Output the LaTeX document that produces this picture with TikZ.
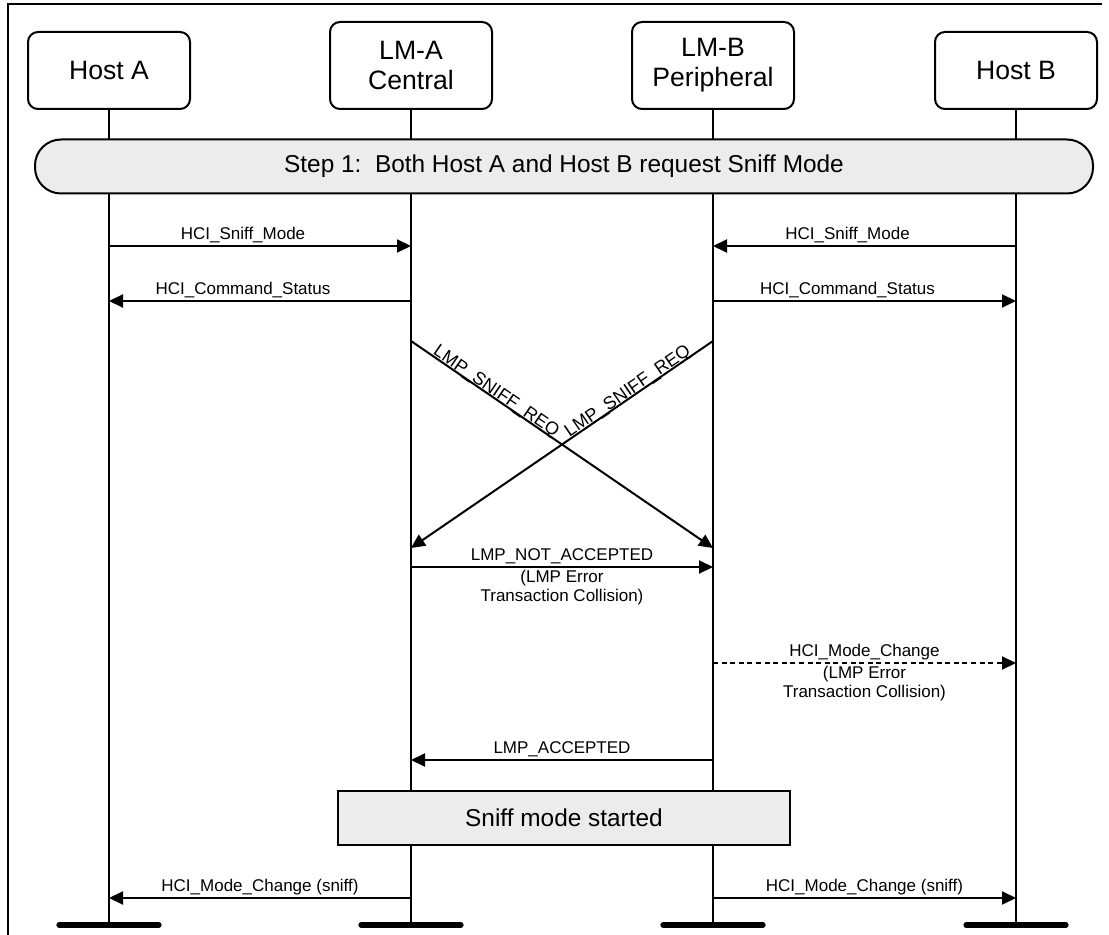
\documentclass[tikz,border=0pt]{standalone}
\usepackage{fontspec}
\setmainfont{Liberation Sans}
\usetikzlibrary{positioning,arrows.meta,calc}
\definecolor{ink}{RGB}{0,0,0}
\definecolor{bandfill}{RGB}{236,236,236}
\tikzset{
  head/.style={draw=ink, rounded corners=5pt, align=center, minimum width=81pt,
    minimum height=38.5pt, inner sep=2pt, font=\fontsize{13.3}{15}\selectfont,
    text=ink, line width=1pt},
  band/.style={draw=ink, fill=bandfill, rounded corners=13pt, minimum width=529pt,
    minimum height=27pt, inner sep=0pt, font=\fontsize{12.2}{14}\selectfont,
    text=ink, line width=1pt},
  note/.style={draw=ink, fill=bandfill, minimum width=226pt, minimum height=27pt,
    inner sep=0pt, font=\fontsize{12.2}{14}\selectfont, text=ink, line width=1pt},
  life/.style={line width=1pt, draw=ink},
  endbar/.style={line width=2.6pt, line cap=round, draw=ink},
  msg/.style={-{Triangle[length=7pt, width=6.5pt]}, line width=1pt, draw=ink},
  msgd/.style={msg, dash pattern=on 2.5pt off 1.8pt},
  lbl/.style={font=\fontsize{8.5}{9.8}\selectfont, text=ink, inner sep=1pt, align=center},
  slbl/.style={lbl, font=\fontsize{9}{10}\selectfont, inner sep=0pt, sloped, above=-1.3pt},
}
\begin{document}
\begin{tikzpicture}[x=0.5pt, y=-0.5pt]
  \useasboundingbox (0,0) rectangle (1109,935);
  % frame
  \draw[line width=0.8pt] (8,935) -- (8,4) -- (1102,4);
  % heads
  \node[head, anchor=south] (hostA) at (109,110) {Host A};
  \node[head, anchor=south, minimum height=43.5pt] (lmA) at (411,110) {LM-A\\Central};
  \node[head, anchor=south, minimum height=43.5pt] (lmB) at (713,110) {LM-B\\Peripheral};
  \node[head, anchor=south] (hostB) at (1016,110) {Host B};
  % lifelines and end bars
  \foreach \l in {hostA,lmA,lmB,hostB} {
    \coordinate (\l-end) at (\l |- 0,925);
    \draw[life] (\l.south) -- (\l-end);
    \draw[endbar] ($(\l-end)+(-50,0)$) -- ($(\l-end)+(50,0)$);
  }
  % message rows
  \foreach \r/\y in {1/246,2/301,3/341,4/548,5/567,6/663,7/760,8/898}
    \foreach \l in {hostA,lmA,lmB,hostB}
      \coordinate (\l-\r) at (\l |- 0,\y);
  \node[band] (step1) at (564,166.5) {Step 1:\ \ Both Host A and Host B request Sniff Mode};
  \node[note] (sniff) at (564,818) {Sniff mode started};

  \draw[msg] (hostA-1) -- node[lbl, above, xshift=-8.5pt] {HCI\_Sniff\_Mode} (lmA-1);
  \draw[msg] (lmA-2) -- node[lbl, above, xshift=-8.5pt] {HCI\_Command\_Status} (hostA-2);
  \draw[msg] (hostB-1) -- node[lbl, above, xshift=-8.5pt] {HCI\_Sniff\_Mode} (lmB-1);
  \draw[msg] (lmB-2) -- node[lbl, above, xshift=-8.5pt] {HCI\_Command\_Status} (hostB-2);

  \draw[msg] (lmA-3) -- (lmB-4);
  \draw[msg] (lmB-3) -- (lmA-4);
  \path (lmA-3) -- node[slbl, pos=0.27] {LMP\_SNIFF\_REQ} (lmB-4);
  \path (lmA-4) -- node[slbl, pos=0.73] {LMP\_SNIFF\_REQ} (lmB-3);

  \draw[msg] (lmA-5) -- node[lbl, above] {LMP\_NOT\_ACCEPTED}
    node[lbl, below] {(LMP Error\\Transaction Collision)} (lmB-5);
  \draw[msgd] (lmB-6) -- node[lbl, above] {HCI\_Mode\_Change}
    node[lbl, below] {(LMP Error\\Transaction Collision)} (hostB-6);
  \draw[msg] (lmB-7) -- node[lbl, above] {LMP\_ACCEPTED} (lmA-7);

  \draw[msg] (lmA-8) -- node[lbl, above] {HCI\_Mode\_Change (sniff)} (hostA-8);
  \draw[msg] (lmB-8) -- node[lbl, above] {HCI\_Mode\_Change (sniff)} (hostB-8);
\end{tikzpicture}
\end{document}
